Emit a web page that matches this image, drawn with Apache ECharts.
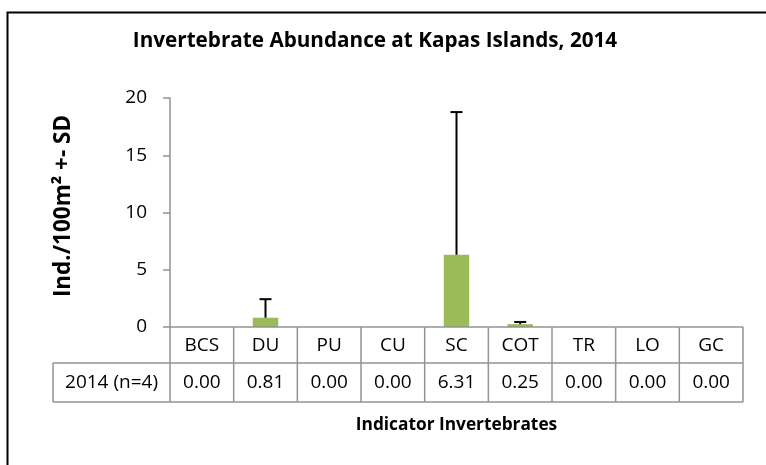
<!DOCTYPE html>
<html>
<head>
<meta charset="utf-8">
<script src="https://cdn.jsdelivr.net/npm/echarts@6/dist/echarts.min.js"></script>
<style>
  html, body { margin: 0; padding: 0; background: #fff; }
  #chart { width: 766px; height: 465px; }
</style>
</head>
<body>
<div id="chart"></div>
<script>
// data
var categories = ['BCS', 'DU', 'PU', 'CU', 'SC', 'COT', 'TR', 'LO', 'GC'];
var means = [0.00, 0.81, 0.00, 0.00, 6.31, 0.25, 0.00, 0.00, 0.00];
var sd = [0, 1.62, 0, 0, 12.46, 0.19, 0, 0, 0];
var rowLabel = '2014 (n=4)';
var yTicks = [0, 5, 10, 15, 20];

var FONT = 'Open Sans, Liberation Sans, sans-serif';
var GRID_LINE = '#939393';
var CELL_FONT = '19px ' + FONT;

var chart = echarts.init(document.getElementById('chart'));

// error bar data: [index, mean, mean+sd]
var errData = means.map(function (m, i) { return [i, m, m + sd[i]]; });
var tableData = means.map(function (m, i) { return [i, m]; });

var option = {
  animation: false,
  title: {
    text: 'Invertebrate Abundance at Kapas Islands, 2014',
    left: 370,
    top: 26,
    textAlign: 'center',
    textStyle: { fontFamily: FONT, fontSize: 20.7, fontWeight: 'bold', color: '#000' }
  },
  grid: { left: 170, right: 23, top: 98, bottom: 138 },
  xAxis: {
    type: 'category',
    data: categories,
    axisLine: { show: false },
    axisTick: { show: false },
    axisLabel: { show: false },
    name: 'Indicator Invertebrates',
    nameLocation: 'middle',
    nameGap: 90,
    nameTextStyle: { fontFamily: FONT, fontSize: 17.3, fontWeight: 'bold', color: '#000' }
  },
  yAxis: {
    type: 'value',
    min: yTicks[0],
    max: yTicks[yTicks.length - 1],
    interval: 5,
    axisLine: { show: true, lineStyle: { color: GRID_LINE, width: 1.5 } },
    axisTick: { show: true, inside: false, length: 7, lineStyle: { color: GRID_LINE, width: 1.5 } },
    splitLine: { show: false },
    axisLabel: { fontFamily: FONT, fontSize: 19, color: '#000', margin: 23 },
    name: 'Ind./100m² +- SD',
    nameLocation: 'middle',
    nameGap: 95,
    nameTextStyle: { fontFamily: FONT, fontSize: 22.5, fontWeight: 'bold', color: '#000', padding: [0, 0, 0, 13] }
  },
  graphic: [
    {
      type: 'rect',
      shape: { x: 7.5, y: 12.5, width: 770, height: 470 },
      style: { fill: 'none', stroke: '#000', lineWidth: 2 },
      silent: true
    }
  ],
  series: [
    {
      type: 'bar',
      data: means,
      barWidth: '40%',
      itemStyle: { color: '#9BBB59' }
    },
    {
      type: 'custom',
      data: errData,
      z: 5,
      renderItem: function (params, api) {
        var i = api.value(0);
        if (api.value(2) <= api.value(1)) return null;
        var lo = api.coord([i, api.value(1)]);
        var hi = api.coord([i, api.value(2)]);
        var cap = 6;
        var st = { stroke: '#000', lineWidth: 2 };
        return {
          type: 'group',
          children: [
            { type: 'line', shape: { x1: lo[0], y1: lo[1], x2: hi[0], y2: hi[1] }, style: st },
            { type: 'line', shape: { x1: hi[0] - cap, y1: hi[1], x2: hi[0] + cap, y2: hi[1] }, style: st }
          ]
        };
      }
    },
    {
      // data table under the axis
      type: 'custom',
      data: tableData,
      clip: false,
      z: 3,
      renderItem: function (params, api) {
        var i = api.value(0);
        var base = api.coord([i, 0]);
        var w = api.size([1, 0])[0];
        var x0 = base[0] - w / 2;
        var y0 = base[1];
        var h1 = 36, h2 = 39;
        var ln = { stroke: GRID_LINE, lineWidth: 1.5 };
        var kids = [
          { type: 'line', shape: { x1: x0 + w, y1: y0, x2: x0 + w, y2: y0 + h1 + h2 }, style: ln },
          { type: 'line', shape: { x1: x0, y1: y0, x2: x0 + w, y2: y0 }, style: ln },
          { type: 'line', shape: { x1: x0, y1: y0 + h1, x2: x0 + w, y2: y0 + h1 }, style: ln },
          { type: 'line', shape: { x1: x0, y1: y0 + h1 + h2, x2: x0 + w, y2: y0 + h1 + h2 }, style: ln },
          {
            type: 'text',
            style: {
              text: categories[i], x: base[0], y: y0 + h1 / 2 + 1,
              align: 'center', verticalAlign: 'middle',
              font: CELL_FONT, fill: '#000'
            }
          },
          {
            type: 'text',
            style: {
              text: api.value(1).toFixed(2), x: base[0], y: y0 + h1 + h2 / 2,
              align: 'center', verticalAlign: 'middle',
              font: CELL_FONT, fill: '#000'
            }
          }
        ];
        if (i === 0) {
          // axis line continues down, plus the row label cell
          var lx = 53;
          kids.push(
            { type: 'line', shape: { x1: x0, y1: y0, x2: x0, y2: y0 + h1 + h2 }, style: ln },
            { type: 'line', shape: { x1: lx, y1: y0 + h1, x2: x0, y2: y0 + h1 }, style: ln },
            { type: 'line', shape: { x1: lx, y1: y0 + h1 + h2, x2: x0, y2: y0 + h1 + h2 }, style: ln },
            { type: 'line', shape: { x1: lx, y1: y0 + h1, x2: lx, y2: y0 + h1 + h2 }, style: ln },
            {
              type: 'text',
              style: {
                text: rowLabel, x: (lx + x0) / 2, y: y0 + h1 + h2 / 2,
                align: 'center', verticalAlign: 'middle',
                font: CELL_FONT, fill: '#000'
              }
            }
          );
        }
        return { type: 'group', children: kids };
      }
    }
  ]
};

chart.setOption(option);
</script>
</body>
</html>
